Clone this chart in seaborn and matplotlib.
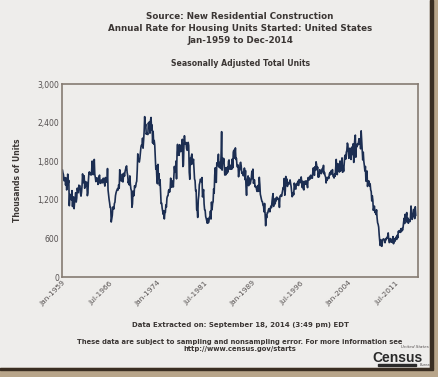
import pandas as pd
import matplotlib
matplotlib.use("Agg")
import matplotlib.pyplot as plt
import matplotlib.patches as patches
import seaborn as sns

# monthly housing starts, thousands of units (SAAR)
starts_1959_1969 = [
    1657, 1667, 1620, 1590, 1498, 1503, 1547, 1430, 1540, 1355, 1416, 1601,
    1460, 1503, 1109, 1289, 1271, 1247, 1197, 1344, 1097, 1246, 1246, 1063,
    1183, 1226, 1312, 1166, 1228, 1382, 1335, 1312, 1429, 1415, 1419, 1303,
    1258, 1324, 1419, 1604, 1511, 1467, 1574, 1381, 1485, 1477, 1424, 1474,
    1265, 1310, 1497, 1625, 1635, 1597, 1612, 1585, 1632, 1803, 1668, 1592,
    1676, 1829, 1600, 1549, 1484, 1522, 1544, 1527, 1440, 1509, 1566, 1585,
    1456, 1476, 1503, 1465, 1513, 1467, 1537, 1513, 1464, 1414, 1548, 1500,
    1526, 1473, 1687, 1355, 1276, 1206, 1152, 1081, 1083, 856, 907, 960,
    1089, 1075, 1058, 1145, 1163, 1265, 1307, 1337, 1359, 1376, 1353, 1434,
    1382, 1668, 1518, 1512, 1492, 1494, 1602, 1478, 1559, 1617, 1569, 1640,
    1681, 1714, 1728, 1625, 1584, 1463, 1488, 1433, 1573, 1446, 1371, 1341,
]
starts_1970_1979 = [
    1085, 1137, 1336, 1262, 1268, 1420, 1392, 1405, 1464, 1489, 1663, 1915,
    1823, 1803, 1788, 1844, 1931, 2020, 2052, 2039, 2159, 2004, 2122, 2263,
    2494, 2335, 2376, 2220, 2242, 2231, 2215, 2397, 2354, 2415, 2237, 2437,
    2481, 2289, 2365, 2084, 2266, 2067, 2123, 2051, 1874, 1677, 1724, 1526,
    1451, 1752, 1555, 1607, 1426, 1513, 1316, 1142, 1150, 1070, 1026, 975,
    1032, 904, 993, 1005, 1121, 1087, 1226, 1260, 1264, 1344, 1360, 1321,
    1367, 1538, 1421, 1395, 1459, 1495, 1401, 1550, 1720, 1629, 1641, 1804,
    1527, 1943, 2063, 1892, 1971, 1893, 2058, 2020, 1949, 2042, 2042, 2142,
    1718, 1738, 2032, 2197, 2075, 2070, 2092, 1996, 1970, 1981, 2094, 2044,
    1630, 1520, 1847, 1748, 1876, 1913, 1760, 1778, 1832, 1681, 1524, 1498,
]
starts_1980_1989 = [
    1341, 1350, 1047, 1051, 927, 1196, 1269, 1436, 1471, 1523, 1510, 1482,
    1547, 1246, 1306, 1360, 1140, 1045, 1041, 940, 911, 873, 837, 910,
    843, 866, 931, 917, 1025, 902, 1166, 1046, 1144, 1173, 1372, 1303,
    1586, 1699, 1606, 1472, 1776, 1733, 1785, 1910, 1710, 1715, 1785, 1688,
    1897, 2260, 1663, 1851, 1774, 1843, 1732, 1586, 1698, 1590, 1689, 1612,
    1711, 1632, 1800, 1821, 1680, 1676, 1684, 1743, 1676, 1834, 1698, 1942,
    1972, 1848, 1876, 2008, 1828, 1845, 1731, 1708, 1743, 1559, 1671, 1661,
    1774, 1784, 1726, 1614, 1628, 1594, 1575, 1605, 1695, 1515, 1656, 1400,
    1271, 1473, 1532, 1573, 1421, 1541, 1509, 1447, 1497, 1539, 1647, 1531,
    1678, 1457, 1491, 1511, 1404, 1413, 1408, 1355, 1331, 1397, 1427, 1332,
]
starts_1990_1999 = [
    1551, 1437, 1289, 1248, 1212, 1177, 1171, 1115, 1110, 1014, 1145, 969,
    798, 965, 921, 1001, 996, 1036, 1063, 1049, 1015, 1079, 1103, 1079,
    1176, 1250, 1297, 1099, 1214, 1145, 1139, 1226, 1186, 1244, 1214, 1227,
    1210, 1210, 1083, 1258, 1260, 1280, 1254, 1300, 1343, 1392, 1376, 1533,
    1272, 1337, 1564, 1465, 1526, 1409, 1439, 1450, 1474, 1450, 1511, 1455,
    1407, 1316, 1249, 1267, 1314, 1281, 1461, 1416, 1369, 1369, 1452, 1431,
    1467, 1491, 1424, 1516, 1504, 1467, 1472, 1557, 1475, 1392, 1489, 1370,
    1355, 1486, 1457, 1492, 1442, 1494, 1437, 1390, 1546, 1520, 1510, 1566,
    1525, 1584, 1567, 1540, 1536, 1641, 1698, 1614, 1582, 1715, 1660, 1792,
    1748, 1670, 1710, 1553, 1611, 1559, 1669, 1648, 1635, 1608, 1648, 1688,
]
starts_2000_2014 = [
    1636, 1737, 1604, 1626, 1575, 1559, 1463, 1541, 1507, 1549, 1551, 1532,
    1600, 1625, 1590, 1649, 1605, 1636, 1670, 1567, 1562, 1540, 1602, 1568,
    1698, 1829, 1642, 1592, 1764, 1717, 1655, 1633, 1804, 1648, 1753, 1788,
    1853, 1629, 1726, 1643, 1751, 1867, 1897, 1833, 1939, 1967, 2083, 2057,
    1911, 1846, 1998, 2003, 1981, 1828, 2002, 2024, 1905, 2072, 1782, 2042,
    2144, 2207, 1864, 2061, 2025, 2068, 2054, 2095, 2151, 2065, 2147, 1994,
    2273, 2119, 1969, 1821, 1942, 1802, 1737, 1650, 1720, 1491, 1570, 1649,
    1409, 1480, 1495, 1490, 1415, 1448, 1354, 1330, 1183, 1264, 1197, 1037,
    1084, 1103, 1005, 1013, 973, 1046, 923, 844, 820, 777, 652, 560,
    490, 582, 505, 478, 540, 585, 594, 586, 585, 534, 588, 581,
    614, 604, 636, 687, 583, 536, 546, 599, 594, 543, 545, 539,
    630, 518, 597, 554, 561, 608, 623, 585, 650, 610, 711, 694,
    723, 704, 695, 753, 708, 757, 728, 771, 854, 915, 833, 976,
    891, 960, 1003, 850, 919, 837, 891, 876, 863, 936, 1105, 1003,
    897, 928, 960, 1052, 985, 909, 1093, 956,
]

tick_labels = ["Jan-1959", "Jul-1966", "Jan-1974", "Jul-1981",
               "Jan-1989", "Jul-1996", "Jan-2004", "Jul-2011"]
y_ticks = [0, 600, 1200, 1800, 2400, 3000]

values = (starts_1959_1969 + starts_1970_1979 + starts_1980_1989
          + starts_1990_1999 + starts_2000_2014)
df = pd.DataFrame({
    "month": pd.date_range("1959-01-01", periods=len(values), freq="MS"),
    "units": values,
})

bg = "#eeedeb"
txt = "#3b3634"

sns.set_style("white")
plt.rcParams["font.family"] = ["DejaVu Sans"]

fig = plt.figure(figsize=(4.39, 3.77), dpi=100, facecolor=bg)
ax = fig.add_axes([0.141, 0.265, 0.811, 0.512])
ax.set_facecolor(bg)

sns.lineplot(data=df, x="month", y="units", color="#1c2e52", linewidth=1.2, ax=ax)

ax.set_xlim(pd.Timestamp("1959-01-01"), pd.Timestamp("2014-12-01"))
ax.set_ylim(0, 3000)
ax.set_yticks(y_ticks)
ax.set_yticklabels([f"{v:,}" for v in y_ticks], fontsize=5.5, color="#555050")
ax.set_xticks([pd.to_datetime(t, format="%b-%Y") for t in tick_labels])
ax.set_xticklabels(tick_labels, rotation=45, ha="right", rotation_mode="anchor",
                   fontsize=5.3, color="#555050")
ax.tick_params(length=0, pad=2)
ax.set_xlabel("")
ax.set_ylabel("Thousands of Units", fontsize=5.5, fontweight="bold", color=txt, labelpad=11)
for s in ax.spines.values():
    s.set_color("#857b72")
    s.set_linewidth(1.2)

# titles
fig.text(0.547, 0.968, "Source: New Residential Construction\n"
         "Annual Rate for Housing Units Started: United States\n"
         "Jan-1959 to Dec-2014", ha="center", va="top", fontsize=6.3,
         fontweight="bold", color=txt, linespacing=1.4)
fig.text(0.547, 0.832, "Seasonally Adjusted Total Units", ha="center",
         va="center", fontsize=5.6, fontweight="bold", color=txt)

# footer
fig.text(0.547, 0.138, "Data Extracted on: September 18, 2014 (3:49 pm) EDT",
         ha="center", va="center", fontsize=5.0, fontweight="bold", color=txt)
fig.text(0.547, 0.083, "These data are subject to sampling and nonsampling error. "
         "For more information see\nhttp://www.census.gov/starts", ha="center",
         va="center", fontsize=4.85, fontweight="bold", color=txt, linespacing=1.2)

# census logo
fig.text(0.905, 0.051, "Census", ha="center", va="center", fontsize=10,
         fontweight="bold", color="#2a2a2a", family=["Liberation Sans Narrow", "Liberation Sans"])
fig.text(0.977, 0.079, "United States", ha="right", va="center", fontsize=3.0,
         color="#555050", style="italic")
fig.text(0.956, 0.031, "Bureau", ha="left", va="center", fontsize=2.6, color="#555050")
fig.add_artist(patches.Rectangle((0.862, 0.029), 0.085, 0.006,
                                 transform=fig.transFigure, color="#2a2a2a"))

# thumbnail frame shadow on right and bottom
fig.add_artist(patches.Rectangle((0.979, 0.025), 0.021, 0.975,
                                 transform=fig.transFigure, color="#b8a58a", zorder=5))
fig.add_artist(patches.Rectangle((0.979, 0.025), 0.007, 0.975,
                                 transform=fig.transFigure, color="#3a2e22", zorder=6))
fig.add_artist(patches.Rectangle((0.0, 0.0), 1.0, 0.025,
                                 transform=fig.transFigure, color="#b8a58a", zorder=5))
fig.add_artist(patches.Rectangle((0.0, 0.018), 0.986, 0.007,
                                 transform=fig.transFigure, color="#3a2e22", zorder=6))

fig.savefig("out.png", dpi=100, facecolor=bg)
